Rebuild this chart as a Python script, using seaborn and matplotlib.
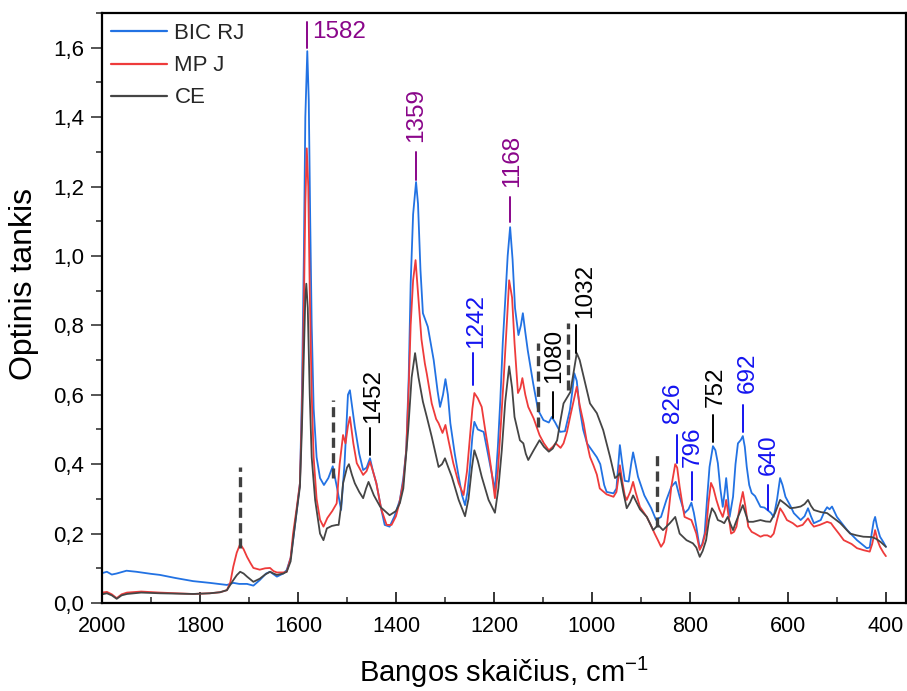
import matplotlib
matplotlib.use("Agg")
import matplotlib.pyplot as plt
from matplotlib.ticker import MultipleLocator, FuncFormatter
import numpy as np
import pandas as pd
import seaborn as sns

# ---- spectra: wavenumber (cm-1) and optical density ----
bic_wn = [2000, 1990, 1980, 1970, 1950, 1930, 1900, 1882, 1850, 1814, 1780, 1745, 1732, 1720, 1704,
          1691, 1678, 1665, 1657, 1643, 1630, 1623, 1615, 1610, 1603, 1596, 1592, 1588, 1585, 1581,
          1578, 1575, 1572, 1568, 1562, 1555, 1547, 1538, 1529, 1520, 1512, 1505, 1498, 1494, 1489,
          1484, 1475, 1467, 1460, 1453, 1447, 1440, 1430, 1423, 1413, 1403, 1392, 1385, 1379, 1374,
          1370, 1365, 1359, 1355, 1350, 1345, 1335, 1323, 1315, 1310, 1304, 1299, 1294, 1289, 1280,
          1272, 1265, 1259, 1254, 1249, 1244, 1240, 1233, 1221, 1211, 1204, 1198, 1192, 1187, 1182,
          1177, 1172, 1167, 1162, 1157, 1150, 1145, 1141, 1136, 1131, 1120, 1110, 1099, 1088, 1082,
          1075, 1065, 1055, 1045, 1040, 1036, 1031, 1025, 1018, 1010, 1000, 990, 983, 975, 970,
          956, 950, 946, 943, 938, 933, 925, 920, 916, 911, 906, 893, 879, 869, 859,
          848, 838, 829, 821, 811, 803, 797, 792, 787, 780, 775, 770, 765, 760, 753,
          748, 743, 738, 733, 729, 726, 722, 719, 712, 707, 702, 696, 692, 688, 684,
          679, 674, 667, 656, 648, 642, 635, 629, 622, 616, 611, 605, 595, 588, 574,
          566, 559, 553, 547, 533, 525, 520, 515, 510, 500, 490, 479, 459, 439, 433,
          429, 425, 422, 418, 412, 405, 400]
bic_abs = [0.086, 0.090, 0.082, 0.085, 0.093, 0.090, 0.084, 0.081, 0.072, 0.063, 0.058, 0.052, 0.058, 0.055, 0.055,
           0.050, 0.066, 0.085, 0.090, 0.076, 0.085, 0.095, 0.13, 0.181, 0.26, 0.345, 0.60, 1.00, 1.40, 1.59,
           1.45, 1.10, 0.80, 0.56, 0.42, 0.36, 0.34, 0.36, 0.394, 0.33, 0.268, 0.40, 0.60, 0.613, 0.56,
           0.508, 0.43, 0.383, 0.39, 0.417, 0.38, 0.345, 0.27, 0.225, 0.220, 0.25, 0.297, 0.36, 0.44, 0.65,
           0.92, 1.12, 1.213, 1.15, 0.96, 0.835, 0.796, 0.70, 0.61, 0.565, 0.60, 0.645, 0.60, 0.518, 0.43,
           0.364, 0.31, 0.282, 0.32, 0.392, 0.48, 0.522, 0.50, 0.493, 0.421, 0.37, 0.325, 0.45, 0.585, 0.75,
           0.872, 1.00, 1.083, 0.99, 0.85, 0.772, 0.80, 0.835, 0.78, 0.728, 0.633, 0.556, 0.527, 0.520, 0.536,
           0.52, 0.493, 0.495, 0.556, 0.61, 0.662, 0.64, 0.56, 0.50, 0.46, 0.44, 0.42, 0.40, 0.34, 0.32,
           0.316, 0.33, 0.40, 0.455, 0.40, 0.352, 0.35, 0.40, 0.434, 0.40, 0.364, 0.31, 0.273, 0.239, 0.248,
           0.297, 0.335, 0.349, 0.306, 0.259, 0.27, 0.289, 0.26, 0.22, 0.158, 0.17, 0.20, 0.30, 0.392, 0.452,
           0.44, 0.403, 0.33, 0.277, 0.32, 0.36, 0.30, 0.248, 0.306, 0.40, 0.46, 0.47, 0.481, 0.45, 0.392,
           0.34, 0.317, 0.308, 0.277, 0.275, 0.268, 0.26, 0.248, 0.30, 0.36, 0.34, 0.306, 0.28, 0.259, 0.239,
           0.25, 0.273, 0.25, 0.23, 0.239, 0.265, 0.276, 0.27, 0.278, 0.248, 0.23, 0.21, 0.181, 0.158, 0.16,
           0.20, 0.235, 0.248, 0.22, 0.191, 0.175, 0.162]

mp_wn = [2000, 1990, 1980, 1970, 1960, 1949, 1920, 1882, 1850, 1814, 1780, 1759, 1745, 1738, 1732,
         1725, 1718, 1711, 1704, 1697, 1691, 1678, 1667, 1657, 1650, 1643, 1630, 1623, 1615, 1610,
         1603, 1596, 1592, 1588, 1585, 1582, 1579, 1576, 1572, 1568, 1562, 1555, 1548, 1540, 1530,
         1521, 1515, 1508, 1503, 1498, 1494, 1487, 1480, 1467, 1460, 1453, 1447, 1440, 1430, 1419,
         1409, 1400, 1393, 1385, 1379, 1374, 1370, 1365, 1360, 1354, 1348, 1341, 1337, 1327, 1318,
         1313, 1305, 1299, 1293, 1283, 1272, 1262, 1255, 1249, 1244, 1240, 1233, 1225, 1218, 1211,
         1204, 1198, 1192, 1187, 1180, 1173, 1169, 1163, 1158, 1151, 1146, 1142, 1136, 1130, 1119,
         1107, 1098, 1088, 1080, 1074, 1064, 1058, 1051, 1044, 1037, 1031, 1025, 1017, 1010, 1004,
         997, 990, 984, 970, 956, 950, 946, 943, 938, 933, 929, 922, 916, 911, 902,
         888, 880, 872, 865, 859, 853, 848, 843, 838, 830, 826, 821, 816, 811, 797,
         792, 787, 780, 774, 767, 762, 757, 752, 746, 740, 733, 729, 726, 721, 716,
         710, 705, 698, 692, 687, 681, 674, 667, 656, 649, 642, 635, 629, 622, 616,
         610, 602, 590, 581, 570, 559, 553, 547, 535, 520, 512, 507, 496, 486, 470,
         459, 445, 433, 428, 422, 417, 412, 405, 400]
mp_abs = [0.030, 0.032, 0.025, 0.014, 0.025, 0.030, 0.033, 0.030, 0.028, 0.026, 0.028, 0.031, 0.037, 0.06, 0.105,
          0.145, 0.170, 0.155, 0.133, 0.115, 0.101, 0.096, 0.100, 0.101, 0.092, 0.088, 0.088, 0.090, 0.13, 0.20,
          0.27, 0.345, 0.55, 0.85, 1.15, 1.31, 1.20, 0.90, 0.60, 0.42, 0.30, 0.24, 0.22, 0.245, 0.265,
          0.287, 0.40, 0.484, 0.46, 0.51, 0.536, 0.46, 0.403, 0.369, 0.38, 0.407, 0.38, 0.345, 0.27, 0.225,
          0.225, 0.25, 0.288, 0.35, 0.44, 0.62, 0.80, 0.93, 0.988, 0.872, 0.76, 0.69, 0.66, 0.575, 0.53,
          0.518, 0.49, 0.513, 0.47, 0.403, 0.345, 0.311, 0.38, 0.479, 0.56, 0.605, 0.59, 0.565, 0.50, 0.44,
          0.37, 0.302, 0.38, 0.489, 0.65, 0.824, 0.93, 0.88, 0.749, 0.605, 0.62, 0.648, 0.60, 0.565, 0.532,
          0.484, 0.46, 0.44, 0.45, 0.46, 0.447, 0.46, 0.493, 0.54, 0.585, 0.623, 0.57, 0.518, 0.46, 0.421,
          0.397, 0.37, 0.33, 0.313, 0.306, 0.32, 0.36, 0.397, 0.35, 0.31, 0.297, 0.32, 0.349, 0.32, 0.277,
          0.248, 0.225, 0.20, 0.18, 0.162, 0.175, 0.21, 0.27, 0.335, 0.40, 0.39, 0.335, 0.29, 0.248, 0.239,
          0.22, 0.20, 0.153, 0.17, 0.21, 0.29, 0.346, 0.33, 0.297, 0.27, 0.248, 0.27, 0.297, 0.25, 0.20,
          0.205, 0.22, 0.28, 0.32, 0.28, 0.22, 0.205, 0.20, 0.191, 0.195, 0.195, 0.19, 0.20, 0.24, 0.273,
          0.26, 0.239, 0.23, 0.22, 0.225, 0.244, 0.23, 0.22, 0.225, 0.234, 0.23, 0.22, 0.20, 0.181, 0.17,
          0.158, 0.152, 0.148, 0.17, 0.21, 0.18, 0.162, 0.145, 0.135]

ce_wn = [2000, 1990, 1980, 1970, 1960, 1949, 1920, 1882, 1850, 1814, 1780, 1759, 1745, 1732, 1725,
         1718, 1711, 1704, 1691, 1685, 1678, 1667, 1657, 1650, 1643, 1630, 1623, 1615, 1610, 1603,
         1596, 1592, 1588, 1585, 1583, 1580, 1576, 1572, 1565, 1555, 1548, 1541, 1531, 1521, 1517,
         1512, 1508, 1500, 1496, 1490, 1484, 1475, 1467, 1461, 1456, 1445, 1432, 1413, 1400, 1392,
         1385, 1375, 1368, 1361, 1354, 1345, 1337, 1327, 1313, 1306, 1300, 1293, 1286, 1272, 1259,
         1252, 1245, 1240, 1233, 1225, 1211, 1198, 1191, 1184, 1177, 1169, 1163, 1158, 1147, 1140,
         1135, 1130, 1119, 1107, 1098, 1088, 1080, 1071, 1065, 1058, 1044, 1038, 1031, 1025, 1017,
         1004, 990, 977, 963, 953, 949, 943, 936, 929, 922, 916, 909, 902, 888, 875,
         865, 855, 848, 841, 830, 821, 807, 794, 787, 780, 774, 767, 761, 755, 749,
         743, 736, 730, 723, 718, 712, 707, 702, 692, 687, 681, 671, 656, 645, 636,
         626, 616, 605, 595, 584, 574, 566, 559, 553, 547, 533, 520, 507, 493, 483,
         473, 460, 446, 429, 420, 410, 400]
ce_abs = [0.025, 0.028, 0.022, 0.012, 0.022, 0.026, 0.030, 0.028, 0.027, 0.026, 0.028, 0.031, 0.037, 0.066, 0.08,
          0.090, 0.085, 0.076, 0.061, 0.065, 0.070, 0.082, 0.090, 0.085, 0.081, 0.085, 0.090, 0.12, 0.181, 0.26,
          0.335, 0.50, 0.72, 0.88, 0.92, 0.85, 0.60, 0.42, 0.297, 0.20, 0.181, 0.215, 0.222, 0.225, 0.225,
          0.28, 0.345, 0.39, 0.40, 0.37, 0.345, 0.32, 0.302, 0.33, 0.349, 0.31, 0.277, 0.253, 0.265, 0.288,
          0.33, 0.50, 0.65, 0.72, 0.65, 0.58, 0.536, 0.479, 0.392, 0.40, 0.417, 0.39, 0.364, 0.297, 0.25,
          0.30, 0.39, 0.44, 0.41, 0.364, 0.297, 0.26, 0.33, 0.44, 0.58, 0.682, 0.62, 0.536, 0.469, 0.46,
          0.43, 0.412, 0.44, 0.469, 0.45, 0.436, 0.445, 0.469, 0.52, 0.575, 0.608, 0.66, 0.72, 0.70, 0.652,
          0.575, 0.547, 0.498, 0.421, 0.36, 0.364, 0.374, 0.32, 0.273, 0.29, 0.31, 0.29, 0.27, 0.248, 0.21,
          0.225, 0.21, 0.22, 0.23, 0.248, 0.20, 0.181, 0.172, 0.16, 0.133, 0.15, 0.181, 0.24, 0.273, 0.26,
          0.239, 0.235, 0.23, 0.248, 0.23, 0.21, 0.23, 0.248, 0.282, 0.26, 0.234, 0.234, 0.239, 0.235, 0.234,
          0.26, 0.297, 0.285, 0.273, 0.275, 0.278, 0.285, 0.297, 0.28, 0.268, 0.262, 0.259, 0.245, 0.23, 0.215,
          0.20, 0.195, 0.191, 0.19, 0.185, 0.175, 0.162]

series_names = ["BIC RJ", "MP J", "CE"]
series_colors = {"BIC RJ": "#2272e3", "MP J": "#ee3b3b", "CE": "#454545"}

# ---- band labels: (wavenumber, colour key) ----
band_labels = [1582, 1359, 1168, 1452, 1242, 1080, 1032, 826, 796, 752, 692, 640]
band_groups = {1582: "purple", 1359: "purple", 1168: "purple",
               1452: "black", 1080: "black", 1032: "black", 752: "black",
               1242: "blue", 826: "blue", 796: "blue", 692: "blue", 640: "blue"}
marker_bands = [1718, 1529, 1110, 1049, 867]

# ---- build long table ----
frames = []
for name, wn, ab in zip(series_names, [bic_wn, mp_wn, ce_wn], [bic_abs, mp_abs, ce_abs]):
    frames.append(pd.DataFrame({"wn": wn, "A": ab, "sample": name}))
df = pd.concat(frames, ignore_index=True)

sns.set_theme(style="ticks")
plt.rcParams["font.family"] = ["Liberation Sans", "DejaVu Sans"]
plt.rcParams["mathtext.fontset"] = "custom"
plt.rcParams["mathtext.rm"] = "Liberation Sans"
plt.rcParams["mathtext.it"] = "Liberation Sans:italic"
plt.rcParams["mathtext.default"] = "regular"

fig = plt.figure(figsize=(9.07, 6.91), dpi=100)
ax = fig.add_axes([102 / 907, 88 / 691, 803.5 / 907, 590 / 691])

sns.lineplot(data=df, x="wn", y="A", hue="sample", hue_order=series_names,
             palette=series_colors, estimator=None, sort=True, linewidth=1.3, ax=ax)

ax.set_xlim(2000, 360)
ax.set_ylim(0, 1.7)

# axis styling
for sp in ax.spines.values():
    sp.set_visible(True)
    sp.set_linewidth(1.6)
    sp.set_color("black")
ax.xaxis.set_major_locator(MultipleLocator(200))
ax.xaxis.set_minor_locator(MultipleLocator(100))
ax.yaxis.set_major_locator(MultipleLocator(0.2))
ax.yaxis.set_minor_locator(MultipleLocator(0.1))
ax.yaxis.set_major_formatter(FuncFormatter(lambda v, p: f"{v:.1f}".replace(".", ",")))
ax.tick_params(axis="x", which="major", direction="in", length=8, width=1.1, labelsize=15.5, pad=9, colors="black")
ax.tick_params(axis="x", which="minor", direction="in", length=4, width=1.1)
ax.tick_params(axis="y", which="major", direction="out", length=8, width=1.1, labelsize=16, pad=5)
ax.tick_params(axis="y", which="minor", direction="out", length=4, width=1.1)
ax.tick_params(top=False, right=False, which="both")
for lbl in ax.get_xticklabels() + ax.get_yticklabels():
    lbl.set_color("black")

ax.set_xlabel("Bangos skaičius, cm$^{-1}$", fontsize=21, color="black", labelpad=13)
ax.set_ylabel("Optinis tankis", fontsize=23, color="black")
ax.yaxis.set_label_coords(-0.078, 0.54)

# legend
leg = ax.legend(loc="upper left", frameon=False, fontsize=16, handlelength=2.5,
                handletextpad=0.35, labelspacing=0.5, borderaxespad=0.3,
                bbox_to_anchor=(-0.008, 1.009))
for h in leg.get_lines():
    h.set_linewidth(1.6)

# dashed markers at shoulder bands
marker_span = {1718: (0.158, 0.392), 1529: (0.36, 0.585), 1110: (0.507, 0.749),
               1049: (0.613, 0.806), 867: (0.219, 0.432)}
for wn in marker_bands:
    lo, hi = marker_span[wn]
    ax.plot([wn, wn], [lo, hi], color="#404040", lw=2.4, ls=(0, (3, 1.6)), solid_capstyle="butt")

# band labels with tick lines
text_colors = {"purple": "#8a068a", "black": "black", "blue": "#1414f0"}
label_layout = {  # line bottom, line top, text base, x offset in points
    1582: (1.598, 1.673, None, 0),
    1359: (1.218, 1.299, 1.327, 0),
    1168: (1.097, 1.169, 1.200, 1.5),
    1452: (0.426, 0.504, 0.518, 2),
    1242: (0.628, 0.720, 0.734, 2),
    1080: (0.533, 0.608, 0.633, 1),
    1032: (0.720, 0.800, 0.820, 6.5),
    826: (0.403, 0.484, 0.518, -3),
    796: (0.297, 0.377, 0.392, 0.5),
    752: (0.464, 0.541, 0.564, 2),
    692: (0.492, 0.570, 0.605, 3.5),
    640: (0.268, 0.340, 0.369, 0.5),
}
for wn in band_labels:
    col = text_colors[band_groups[wn]]
    lo, hi, tb, dx = label_layout[wn]
    ax.plot([wn, wn], [lo, hi], color=col, lw=1.4)
    if tb is None:
        ax.annotate(str(wn), xy=(wn, 1.645), xytext=(4, 0), textcoords="offset points",
                    ha="left", va="center", fontsize=17.5, color=col)
    else:
        ax.annotate(str(wn), xy=(wn, tb), xytext=(dx, 0), textcoords="offset points",
                    ha="center", va="bottom", rotation=90, fontsize=17.5, color=col)

fig.savefig("out.png", dpi=100)
